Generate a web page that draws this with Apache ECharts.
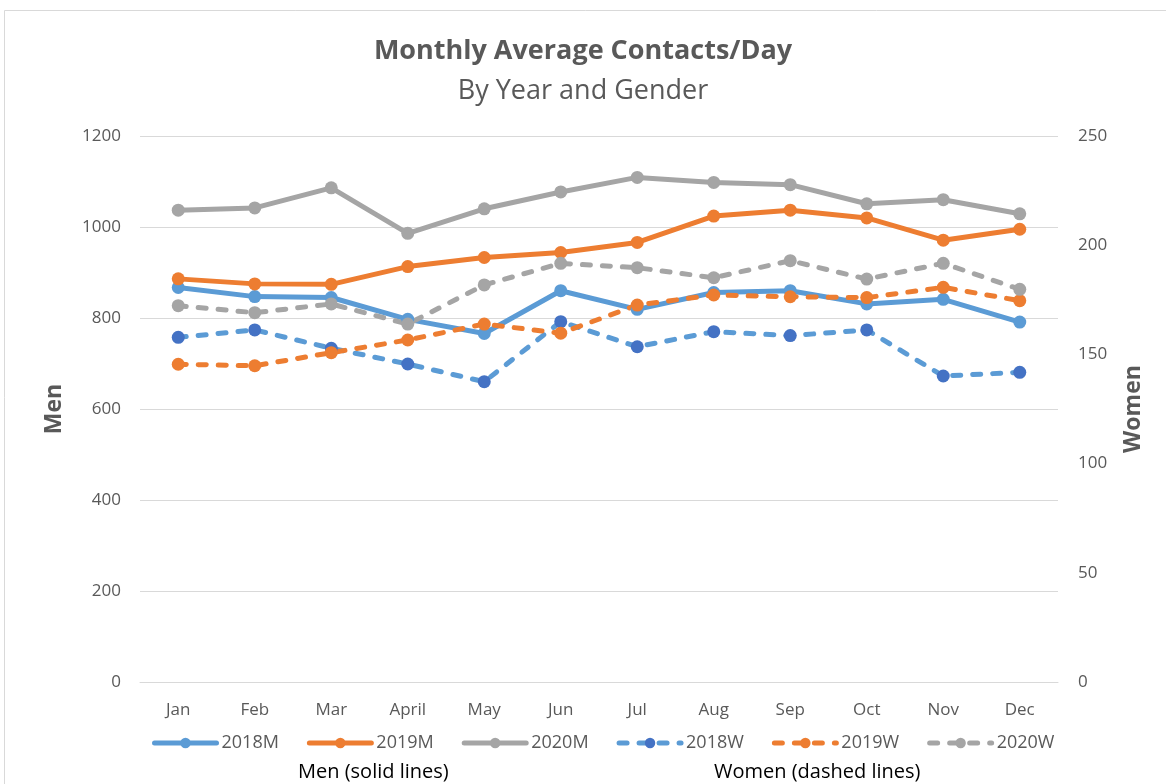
<!DOCTYPE html>
<html><head><meta charset="utf-8">
<script src="https://cdn.jsdelivr.net/npm/echarts@6/dist/echarts.min.js"></script>
<style>html,body{margin:0;padding:0;background:#fff}#c{width:1166px;height:784px}</style>
</head><body><div id="c"></div>
<script>
const months = ['Jan','Feb','Mar','April','May','Jun','Jul','Aug','Sep','Oct','Nov','Dec'];
const men2018 = [867, 847, 845, 797, 766, 860, 819, 856, 860, 831, 841, 791];
const men2019 = [886, 875, 874, 913, 933, 944, 966, 1024, 1037, 1020, 971, 995];
const men2020 = [1037, 1042, 1086, 986, 1040, 1077, 1109, 1098, 1093, 1051, 1060, 1029];
const women2018 = [157.8, 161.2, 152.8, 145.6, 137.5, 165.0, 153.5, 160.4, 158.6, 161.2, 140.1, 141.8];
const women2019 = [145.5, 144.8, 150.8, 156.6, 163.9, 159.7, 172.6, 177.2, 176.4, 176.0, 180.7, 174.6];
const women2020 = [172.3, 169.1, 173.1, 163.9, 181.8, 191.7, 189.7, 185.1, 192.9, 184.5, 191.7, 179.8];
const menTicks = [0, 200, 400, 600, 800, 1000, 1200];
const womenTicks = [0, 50, 100, 150, 200, 250];

const FONT = '"Open Sans", "Liberation Sans", sans-serif';
const TXT = '#595959';
function mk(name, data, color, dashed, axis, markerColor) {
  return {
    name, type: 'line', data, yAxisIndex: axis,
    symbol: 'circle', symbolSize: 13, showSymbol: true,
    lineStyle: { width: 5, color: color, type: dashed ? [8, 12] : 'solid', cap: 'round', join: 'round' },
    itemStyle: { color: markerColor || color, borderWidth: 0 },
    emphasis: { disabled: true }, animation: false
  };
}
const chart = echarts.init(document.getElementById('c'));
chart.setOption({
  backgroundColor: '#fff',
  animation: false,
  title: {
    text: 'Monthly Average Contacts/Day',
    subtext: 'By Year and Gender',
    left: 'center', top: 33, itemGap: 13,
    textStyle: { fontFamily: FONT, fontSize: 27, fontWeight: 'bold', color: TXT },
    subtextStyle: { fontFamily: FONT, fontSize: 27, color: TXT }
  },
  graphic: [
    { type: 'rect', shape: { x: 4.5, y: 10.5, width: 1200, height: 800 }, style: { fill: 'none', stroke: '#d9d9d9', lineWidth: 1 }, silent: true },
    { type: 'text', left: 298, top: 762, style: { text: 'Men (solid lines)', font: '20px ' + FONT, fill: '#000' } },
    { type: 'text', left: 714, top: 762, style: { text: 'Women (dashed lines)', font: '20px ' + FONT, fill: '#000' } }
  ],
  legend: {
    bottom: 27, left: 147, itemWidth: 62, itemHeight: 13, itemGap: 28,
    textStyle: { fontFamily: FONT, fontSize: 18, color: TXT },
    lineStyle: { width: 5 },
    data: ['2018M','2019M','2020M','2018W','2019W','2020W']
  },
  grid: { left: 140, right: 108, top: 136, bottom: 102 },
  xAxis: {
    type: 'category', data: months, boundaryGap: true,
    axisLine: { show: true, lineStyle: { color: '#d9d9d9', width: 1 } },
    axisTick: { show: false },
    axisLabel: { fontFamily: FONT, fontSize: 17, color: TXT, margin: 20 }
  },
  yAxis: [
    { type: 'value', min: 0, max: 1200, interval: 200, position: 'left',
      name: 'Men', nameLocation: 'middle', nameRotate: 90, nameGap: 74,
      nameTextStyle: { fontFamily: FONT, fontSize: 23, fontWeight: 'bold', color: TXT },
      axisLine: { show: false }, axisTick: { show: false },
      axisLabel: { fontFamily: FONT, fontSize: 17, color: TXT, margin: 19, formatter: v => String(v) },
      splitLine: { lineStyle: { color: '#d9d9d9', width: 1 } } },
    { type: 'value', min: 0, max: 250, interval: 50, position: 'right',
      name: 'Women', nameLocation: 'middle', nameRotate: 90, nameGap: 64,
      nameTextStyle: { fontFamily: FONT, fontSize: 23, fontWeight: 'bold', color: TXT },
      axisLine: { show: false }, axisTick: { show: false },
      axisLabel: { fontFamily: FONT, fontSize: 17, color: TXT, margin: 20, formatter: v => String(v) },
      splitLine: { show: false } }
  ],
  series: [
    mk('2018M', men2018, '#5B9BD5', false, 0),
    mk('2019M', men2019, '#ED7D31', false, 0),
    mk('2020M', men2020, '#A5A5A5', false, 0),
    mk('2018W', women2018, '#5B9BD5', true, 1, '#4472C4'),
    mk('2019W', women2019, '#ED7D31', true, 1),
    mk('2020W', women2020, '#A5A5A5', true, 1)
  ]
});
</script></body></html>
